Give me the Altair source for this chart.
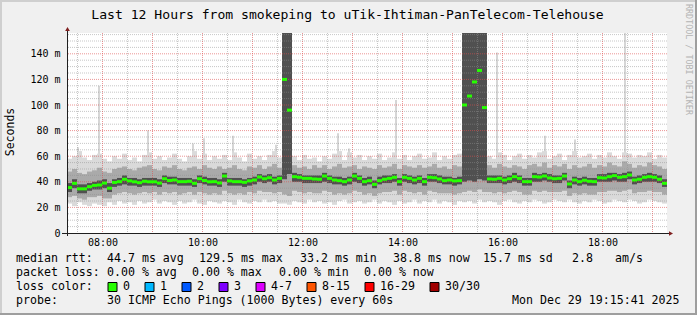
import altair as alt
import pandas as pd

MONO = "DejaVu Sans Mono"

# ---------------- data ----------------
# time axis: hours of day; one column every 6 minutes
T_START = 7.29
STEP_H = 0.1

median = [
    35.5, 38.8, 34.5, 34.5, 36.2, 37.2, 37.5, 39.0, 35.0, 39.5,
    40.1, 42.0, 40.7, 40.0, 39.3, 40.4, 40.0, 40.0, 39.0, 42.4,
    41.0, 41.4, 40.1, 40.1, 40.4, 38.8, 42.4, 41.0, 40.0, 40.1,
    39.1, 44.5, 40.7, 40.1, 40.1, 39.6, 40.7, 41.4, 43.7, 42.4,
    43.2, 41.4, 42.7, 120.0, 96.0, 44.0, 43.5, 42.7, 42.7, 42.2,
    42.0, 44.5, 42.7, 41.4, 40.9, 40.1, 41.4, 44.5, 42.7, 40.1,
    40.9, 38.0, 40.9, 42.0, 42.7, 43.5, 40.1, 43.5, 42.7, 41.4,
    42.7, 40.1, 43.5, 43.2, 42.2, 40.9, 41.4, 40.7, 40.9, 100.0,
    107.0, 118.0, 127.0, 98.0, 42.2, 42.0, 42.7, 41.4, 42.4, 44.0,
    42.7, 40.1, 40.1, 44.0, 43.7, 44.5, 43.0, 42.4, 42.7, 44.5,
    38.3, 41.4, 40.1, 41.2, 40.4, 40.1, 43.2, 43.0, 44.0, 44.8,
    43.5, 44.0, 45.3, 41.4, 42.0, 43.5, 44.0, 43.5, 42.0, 38.8,
]
# lightest smoke (outer pings)
hi1 = [
    58, 60, 64, 59, 57, 61, 62, 58, 56, 60,
    58, 62, 57, 59, 56, 61, 63, 58, 60, 57,
    59, 62, 58, 56, 60, 64, 58, 62, 57, 60,
    58, 61, 57, 63, 59, 56, 62, 58, 60, 57,
    61, 64, 59, 170, 170, 60, 57, 61, 58, 59,
    56, 60, 58, 62, 64, 57, 63, 59, 61, 57,
    60, 58, 62, 57, 59, 63, 58, 61, 57, 60,
    62, 58, 59, 63, 57, 60, 58, 61, 62, 170,
    170, 170, 170, 170, 60, 58, 63, 61, 57, 60,
    62, 58, 61, 59, 63, 64, 58, 60, 62, 57,
    61, 64, 59, 60, 62, 58, 61, 59, 63, 60,
    58, 63, 62, 59, 61, 60, 63, 58, 61, 59,
]
lo1 = [
    23, 21, 24, 22, 21, 23, 22, 21, 24, 22,
    25, 23, 24, 22, 25, 23, 24, 26, 23, 25,
    24, 22, 25, 23, 24, 26, 23, 22, 25, 24,
    23, 25, 24, 22, 26, 24, 23, 25, 24, 26,
    24, 25, 23, 23, 22, 25, 24, 23, 26, 24,
    25, 23, 24, 22, 25, 26, 23, 24, 25, 23,
    24, 26, 23, 25, 24, 22, 25, 23, 24, 26,
    23, 25, 24, 26, 23, 25, 24, 22, 25, 24,
    25, 23, 26, 24, 25, 24, 22, 25, 26, 24,
    23, 25, 24, 26, 25, 23, 24, 26, 25, 24,
    26, 24, 23, 25, 24, 26, 25, 23, 24, 26,
    25, 24, 26, 25, 23, 24, 26, 25, 24, 23,
]
# middle smoke
hi2 = [
    48, 50, 47, 46, 48, 49, 51, 48, 47, 50,
    51, 52, 50, 49, 51, 52, 53, 50, 49, 52,
    51, 53, 50, 49, 51, 52, 50, 53, 51, 50,
    52, 50, 51, 53, 50, 49, 52, 51, 53, 50,
    52, 54, 51, 170, 170, 53, 51, 52, 50, 53,
    51, 53, 50, 52, 54, 51, 52, 53, 50, 52,
    51, 50, 53, 51, 52, 54, 50, 53, 52, 51,
    53, 51, 52, 54, 51, 52, 50, 53, 52, 170,
    170, 170, 170, 170, 53, 51, 54, 52, 51, 53,
    52, 50, 53, 54, 52, 55, 51, 53, 52, 54,
    50, 53, 51, 52, 54, 51, 53, 52, 55, 53,
    52, 56, 54, 51, 53, 52, 55, 53, 52, 50,
]
lo2 = [
    28, 29, 27, 26, 28, 28, 29, 27, 27, 30,
    31, 32, 31, 30, 31, 32, 31, 32, 30, 32,
    31, 32, 30, 31, 32, 30, 32, 31, 30, 31,
    30, 33, 31, 30, 31, 30, 32, 31, 33, 32,
    32, 31, 32, 30, 29, 33, 32, 31, 32, 31,
    31, 33, 32, 30, 31, 30, 31, 33, 32, 30,
    31, 29, 31, 32, 32, 33, 30, 33, 32, 31,
    32, 30, 33, 32, 31, 31, 31, 30, 31, 32,
    33, 32, 34, 32, 32, 31, 32, 31, 32, 33,
    32, 30, 30, 33, 32, 33, 32, 32, 32, 33,
    29, 31, 30, 31, 30, 30, 32, 32, 33, 33,
    32, 33, 34, 31, 32, 32, 33, 32, 32, 30,
]
# dark core around the median
hi3 = [
    39, 42, 38, 38, 39, 40, 41, 42, 39, 42,
    43, 45, 43, 43, 42, 43, 43, 43, 42, 45,
    44, 44, 43, 43, 43, 42, 45, 44, 43, 43,
    42, 47, 43, 43, 43, 42, 43, 44, 46, 45,
    46, 44, 45, 170, 170, 47, 46, 45, 45, 45,
    45, 47, 45, 44, 44, 43, 44, 47, 45, 43,
    44, 41, 44, 45, 45, 46, 43, 46, 45, 44,
    45, 43, 46, 46, 45, 44, 44, 43, 44, 170,
    170, 170, 170, 170, 45, 45, 45, 44, 45, 47,
    45, 43, 43, 47, 46, 47, 46, 45, 45, 47,
    41, 44, 43, 44, 43, 43, 46, 46, 47, 47,
    46, 47, 48, 44, 45, 46, 47, 46, 45, 42,
]
lo3 = [
    32, 35, 31, 31, 33, 34, 34, 35, 32, 36,
    37, 38, 37, 37, 36, 37, 37, 37, 36, 39,
    38, 38, 37, 37, 37, 36, 39, 38, 37, 37,
    36, 40, 37, 37, 37, 36, 37, 38, 40, 39,
    40, 38, 39, 42, 46, 40, 40, 39, 39, 39,
    39, 40, 39, 38, 38, 37, 38, 40, 39, 37,
    38, 35, 38, 39, 39, 40, 37, 40, 39, 38,
    39, 37, 40, 40, 39, 38, 38, 37, 38, 40,
    41, 40, 42, 41, 39, 39, 39, 38, 39, 40,
    39, 37, 37, 40, 40, 41, 40, 39, 39, 41,
    35, 38, 37, 38, 37, 37, 40, 40, 40, 41,
    40, 40, 42, 38, 39, 40, 40, 40, 39, 36,
]
# isolated high pings (thin light streaks above the smoke)
streak_t = [7.51, 7.93, 8.91, 9.81, 10.03, 10.61, 11.47, 12.71, 12.93,
            13.87, 15.89, 16.85, 17.45, 18.45]
streak_lo = [56, 56, 57, 56, 57, 56, 57, 57, 56, 57, 57, 57, 57, 57]
streak_hi = [67, 115, 80, 70, 74, 76, 69, 78, 66, 104, 141, 76, 73, 170]

X_TICKS = [8, 10, 12, 14, 16, 18]
Y_TICKS = [0, 20, 40, 60, 80, 100, 120, 140]
X_MAJOR = [8, 9, 10, 11, 12, 13, 14, 15, 16, 17, 18, 19]
X_MINOR = [7.5, 8.5, 9.5, 10.5, 11.5, 12.5, 13.5, 14.5, 15.5, 16.5, 17.5, 18.5]
Y_MAJOR = [20, 40, 60, 80, 100, 120, 140]
Y_MINOR = [5, 10, 15, 25, 30, 35, 45, 50, 55, 65, 70, 75, 85, 90, 95,
           105, 110, 115, 125, 130, 135, 145, 150, 155]

TITLE = "Last 12 Hours from smokeping to uTik-Ihtiman-PanTelecom-Telehouse"
ROW_RTT = [("median rtt:", 16), ("44.7 ms avg", 107), ("129.5 ms max", 199),
           ("33.2 ms min", 300), ("38.8 ms now", 393), ("15.7 ms sd", 483),
           ("2.8", 572), ("am/s", 615)]
ROW_LOSS = [("packet loss:", 16), ("0.00 % avg", 107), ("0.00 % max", 192),
            ("0.00 % min", 279), ("0.00 % now", 364)]
LOSS_LABELS = ["0", "1", "2", "3", "4-7", "8-15", "16-29", "30/30"]
LOSS_COLORS = ["#26ff00", "#00b8ff", "#0059ff", "#7e00ff", "#dd00ff",
               "#ff5500", "#ff0000", "#a00000"]
PROBE = "30 ICMP Echo Pings (1000 Bytes) every 60s"
STAMP = "Mon Dec 29 19:15:41 2025"

# ---------------- chart ----------------
n = len(median)
df = pd.DataFrame({
    "t0": [T_START + i * STEP_H for i in range(n)],
    "t1": [T_START + (i + 1) * STEP_H for i in range(n)],
    "med": median, "lo1": lo1, "hi1": hi1, "lo2": lo2, "hi2": hi2,
    "lo3": lo3, "hi3": hi3,
})
sdf = pd.DataFrame({"t": streak_t, "lo": streak_lo, "hi": streak_hi})

xs = alt.Scale(domain=[T_START, T_START + 12], nice=False, zero=False)
ys = alt.Scale(domain=[0, 156.25], nice=False, zero=False)

X_AX = alt.Axis(values=X_TICKS, title=None, grid=False, ticks=False, tickSize=0,
                labelExpr="(datum.value < 10 ? '0' : '') + datum.value + ':00'",
                labelFont=MONO, labelFontSize=10, labelColor="#000000",
                labelBaseline="middle", labelPadding=9, labelFlush=False,
                domainColor="#1f1f1f", domainWidth=1, zindex=1)
Y_AX = alt.Axis(values=Y_TICKS, title=None, grid=False, ticks=False, tickSize=0,
                labelExpr="datum.value == 0 ? '0\u00a0\u00a0' : datum.value + ' m'",
                labelFont=MONO, labelFontSize=10, labelColor="#000000",
                labelPadding=7, labelFlush=False,
                domainColor="#1f1f1f", domainWidth=1, zindex=1)

base = alt.Chart(df)


def band(lo, hi, color):
    return base.mark_rect(color=color, clip=True).encode(
        x=alt.X("t0:Q", scale=xs, axis=X_AX), x2="t1:Q",
        y=alt.Y(f"{lo}:Q", scale=ys, axis=Y_AX), y2=f"{hi}:Q")


def vgrid(vals, color, op):
    return alt.Chart(pd.DataFrame({"v": vals})).mark_rule(
        color=color, opacity=op, strokeWidth=1, strokeDash=[1, 1]).encode(
        x=alt.X("v:Q", scale=xs, axis=X_AX))


def hgrid(vals, color, op):
    return alt.Chart(pd.DataFrame({"v": vals})).mark_rule(
        color=color, opacity=op, strokeWidth=1, strokeDash=[1, 1]).encode(
        y=alt.Y("v:Q", scale=ys, axis=Y_AX))


streaks = alt.Chart(sdf).mark_rule(color="#d6d6d6", strokeWidth=2, clip=True).encode(
    x=alt.X("t:Q", scale=xs, axis=X_AX),
    y=alt.Y("lo:Q", scale=ys, axis=Y_AX), y2="hi:Q")

med_line = base.mark_rule(color="#26ff00", strokeWidth=3, strokeCap="butt").encode(
    x=alt.X("t0:Q", scale=xs, axis=X_AX), x2="t1:Q",
    y=alt.Y("med:Q", scale=ys, axis=Y_AX))

OX, OY = 67, 33
one = pd.DataFrame({"k": [0]})


def txt(s, x, y, size=11.6, align="left", angle=0, color="#000000"):
    return alt.Chart(one).mark_text(
        text=s, align=align, baseline="middle", fontSize=size, font=MONO,
        color=color, angle=angle).encode(
        x=alt.value(x - OX), y=alt.value(y - OY))


def box(x1, x2, y1, y2, fill, stroke=None):
    kw = dict(fill=fill)
    if stroke:
        kw.update(stroke=stroke, strokeWidth=1)
    else:
        kw.update(strokeWidth=0)
    return alt.Chart(one).mark_rect(**kw).encode(
        x=alt.value(x1 - OX), x2=alt.value(x2 - OX),
        y=alt.value(y1 - OY), y2=alt.value(y2 - OY))


def seg(x1, x2, y1, y2, color="#1f1f1f"):
    return alt.Chart(one).mark_rule(color=color, strokeWidth=1).encode(
        x=alt.value(x1 - OX), x2=alt.value(x2 - OX),
        y=alt.value(y1 - OY), y2=alt.value(y2 - OY))


layers = [
    streaks,
    band("lo1", "hi1", "#dadada"),
    band("lo2", "hi2", "#aaaaaa"),
    band("lo3", "hi3", "#505050"),
    vgrid(X_MINOR, "#8f8f8f", 0.5),
    hgrid(Y_MINOR, "#8f8f8f", 0.5),
    vgrid(X_MAJOR, "#de4f4f", 0.6),
    hgrid(Y_MAJOR, "#de4f4f", 0.6),
    med_line,
    # axis extensions and arrows
    seg(67.5, 67.5, 28, 236),
    seg(62, 670, 233.5, 233.5),
    alt.Chart(one).mark_point(shape="triangle-up", filled=True, size=22,
                              color="#7f1f1f", opacity=1).encode(
        x=alt.value(67.5 - OX), y=alt.value(29 - OY)),
    alt.Chart(one).mark_point(shape="triangle-right", filled=True, size=22,
                              color="#7f1f1f", opacity=1).encode(
        x=alt.value(671 - OX), y=alt.value(233.5 - OY)),
    # frame shading
    box(0, 697, 0, 2, "#cfcfcf"),
    box(0, 2, 0, 315, "#cfcfcf"),
    box(695, 697, 0, 315, "#9e9e9e"),
    box(0, 697, 313, 315, "#9e9e9e"),
    # titles
    txt(TITLE, 347.5, 14.5, size=13.1, align="center"),
    txt("Seconds", 11, 132, size=11.5, align="center", angle=270),
    txt("RRDTOOL / TOBI OETIKER", 688.5, 4, size=8.4, angle=90, color="#b4b4b4"),
]

for s, x in ROW_RTT:
    layers.append(txt(s, x, 259))
for s, x in ROW_LOSS:
    layers.append(txt(s, x, 273))
layers.append(txt("loss color:", 16, 287))
bx = 108
for lab, col in zip(LOSS_LABELS, LOSS_COLORS):
    layers.append(box(bx, bx + 9, 282.5, 291.5, col, stroke="#000000"))
    lx = bx + 15
    layers.append(txt(lab, lx, 287))
    bx = lx + len(lab) * 7 + 15
layers.append(txt("probe:", 16, 301))
layers.append(txt(PROBE, 107, 301))
layers.append(txt(STAMP, 512, 301))

chart = alt.layer(*layers).properties(
    width=600, height=200,
    autosize=alt.AutoSizeParams(type="none"),
    padding={"left": 67, "top": 33, "right": 30, "bottom": 82},
).configure(background="#f0f0f0").configure_view(fill="#ffffff", strokeWidth=0)

chart.save("out.html", embed_options={"renderer": "svg", "actions": False})
